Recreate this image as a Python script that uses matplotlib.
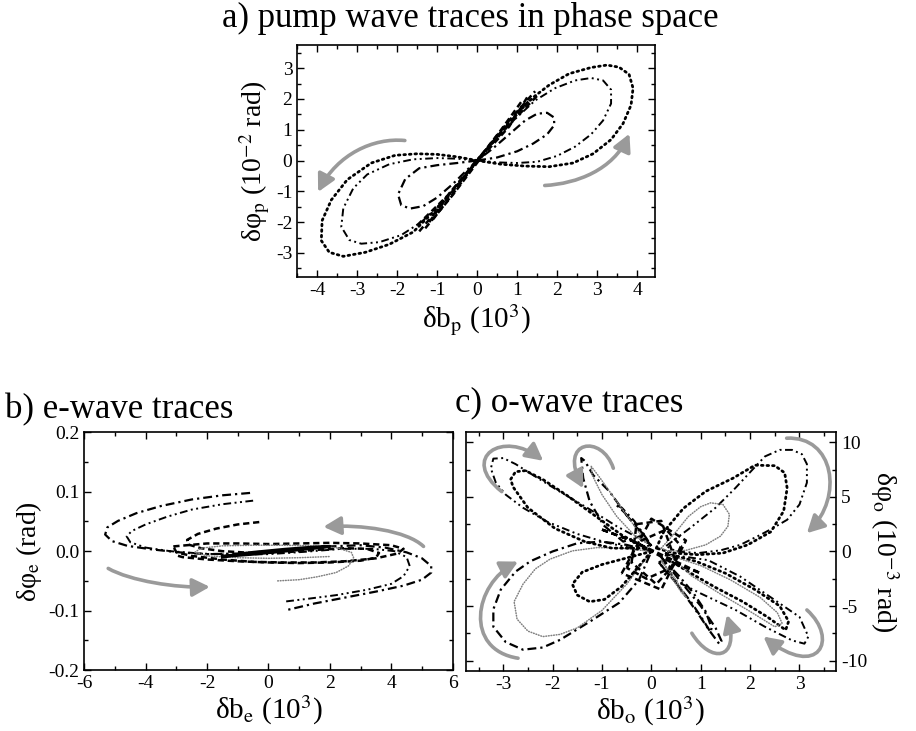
import matplotlib
matplotlib.use("Agg")
import matplotlib.pyplot as plt
from matplotlib.patches import FancyArrowPatch
from matplotlib.path import Path
from matplotlib.ticker import MultipleLocator, FormatStrFormatter

plt.rcParams['font.family'] = ['Liberation Serif', 'DejaVu Serif']
plt.rcParams['mathtext.fontset'] = 'stix'
plt.rcParams['axes.unicode_minus'] = False

# ---- a) pump wave traces ----
a_outer_r_x = [0.0, 0.6, 1.2, 1.8, 2.4, 2.9, 3.35, 3.65, 3.85, 3.9, 3.8, 3.55, 3.25, 2.85, 2.3, 1.8, 1.4, 0.9, 0.45, 0.0]
a_outer_r_y = [0.0, -0.12, -0.18, -0.2, -0.08, 0.22, 0.68, 1.2, 1.8, 2.35, 2.8, 3.03, 3.1, 3.02, 2.82, 2.45, 2.05, 1.4, 0.7, 0.0]
a_outer_l_x = [0.0, -0.5, -1.0, -1.5, -2.05, -2.65, -3.25, -3.65, -3.88, -3.9, -3.7, -3.35, -2.8, -2.2, -1.6, -1.05, -0.5, 0.0]
a_outer_l_y = [0.0, 0.12, 0.2, 0.22, 0.17, -0.08, -0.62, -1.28, -1.95, -2.6, -2.98, -3.11, -2.98, -2.72, -2.32, -1.6, -0.8, 0.0]
a_mid_r_x = [0.0, 0.5, 1.0, 1.5, 2.0, 2.45, 2.85, 3.15, 3.35, 3.35, 3.15, 2.85, 2.45, 1.95, 1.45, 0.95, 0.45, 0.0]
a_mid_r_y = [0.0, -0.06, -0.08, -0.04, 0.15, 0.45, 0.85, 1.3, 1.85, 2.3, 2.6, 2.68, 2.6, 2.35, 1.95, 1.35, 0.65, 0.0]
a_mid_l_x = [0.0, -0.5, -1.0, -1.6, -2.2, -2.75, -3.1, -3.35, -3.4, -3.2, -2.9, -2.45, -1.9, -1.4, -0.9, -0.45, 0.0]
a_mid_l_y = [0.0, 0.06, 0.08, 0.04, -0.12, -0.45, -0.9, -1.55, -2.15, -2.58, -2.7, -2.65, -2.42, -2.0, -1.4, -0.7, 0.0]
a_small_r_x = [0.0, 0.5, 1.0, 1.4, 1.75, 1.93, 1.92, 1.75, 1.5, 1.2, 0.8, 0.4, 0.0]
a_small_r_y = [0.0, 0.1, 0.3, 0.55, 0.85, 1.15, 1.4, 1.55, 1.52, 1.3, 0.85, 0.4, 0.0]
a_small_l_x = [0.0, -0.5, -1.0, -1.45, -1.8, -1.98, -1.9, -1.68, -1.35, -1.0, -0.6, -0.25, 0.0]
a_small_l_y = [0.0, -0.08, -0.15, -0.25, -0.6, -1.1, -1.45, -1.56, -1.48, -1.2, -0.75, -0.3, 0.0]
# dense diagonal bundle through the origin
a_core_x = [[-1.45, -0.8, 0.0, 0.8, 1.45],
            [-1.3, -0.6, 0.1, 0.8, 1.25],
            [-1.1, -0.5, 0.0, 0.6, 1.1],
            [-1.5, -0.75, 0.05, 0.9, 1.5],
            [-1.2, -0.65, -0.05, 0.55, 1.3]]
a_core_y = [[-2.3, -1.3, 0.0, 1.3, 2.25],
            [-2.2, -1.1, 0.1, 1.1, 2.05],
            [-1.9, -0.9, 0.0, 1.0, 1.9],
            [-2.1, -1.15, 0.1, 1.3, 2.1],
            [-2.0, -1.0, -0.1, 0.85, 1.95]]

# ---- b) e-wave traces ----
b1_x = [-0.6, -1.5, -2.5, -3.5, -4.3, -4.9, -5.25, -5.32, -5.1, -4.6, -3.8, -2.9, -2.0, -1.0, 0.0, 1.0, 2.0, 3.0,
        3.8, 4.5, 5.0, 5.3, 5.3, 5.0, 4.4, 3.5, 2.5, 1.5, 0.6]
b1_y = [0.098, 0.094, 0.087, 0.076, 0.064, 0.051, 0.040, 0.028, 0.017, 0.009, 0.003, -0.002, -0.005, -0.004, 0.0,
        0.004, 0.008, 0.010, 0.006, -0.002, -0.012, -0.025, -0.036, -0.048, -0.058, -0.068, -0.078, -0.088, -0.099]
b2_x = [-0.5, -1.5, -2.5, -3.3, -4.0, -4.45, -4.62, -4.5, -4.0, -3.2, -2.2, -1.2, 0.0, 1.2, 2.4, 3.4, 4.1, 4.5,
        4.6, 4.4, 4.0, 3.2, 2.2, 1.3, 0.5]
b2_y = [0.085, 0.079, 0.070, 0.058, 0.045, 0.034, 0.025, 0.015, 0.006, 0.0, -0.004, -0.006, -0.005, -0.001, 0.004,
        0.004, 0.0, -0.01, -0.025, -0.042, -0.055, -0.065, -0.074, -0.08, -0.085]
b3_x = [-0.3, -1.0, -1.7, -2.3, -2.65, -2.6, -2.2, -1.5, -0.5, 0.5, 1.5, 2.5, 3.2, 3.6, 3.5, 3.0, 2.0, 1.0, 0.0,
        -1.0, -2.0, -2.8, -3.0]
b3_y = [0.049, 0.045, 0.038, 0.029, 0.019, 0.011, 0.005, 0.0, -0.003, -0.002, 0.002, 0.005, 0.004, -0.003, -0.011,
        -0.016, -0.019, -0.02, -0.019, -0.017, -0.014, -0.01, -0.007]
b_band_x = [-3.1, -2.0, -1.0, 0.0, 1.0, 2.0, 3.0, 4.0, 4.4, 4.2, 3.5, 2.5, 1.5, 0.5, -0.5, -1.5, -2.5, -3.0, -3.1]
b_band_y = [0.008, 0.013, 0.013, 0.012, 0.013, 0.014, 0.013, 0.01, 0.004, -0.004, -0.012, -0.017, -0.019, -0.019,
            -0.018, -0.014, -0.008, -0.002, 0.008]
b_gray_x = [0.3, 1.0, 1.6, 2.2, 2.6, 2.78, 2.7, 2.2, 1.4, 0.5, -0.5, -1.5, -2.2, -2.4, -2.0, -1.0, 0.0, 1.0, 2.0]
b_gray_y = [-0.05, -0.048, -0.043, -0.036, -0.025, -0.012, -0.002, 0.006, 0.009, 0.01, 0.01, 0.009, 0.005, -0.002,
            -0.008, -0.011, -0.012, -0.011, -0.009]
b_core_x = [-1.5, -0.5, 0.5, 1.5, 2.0, 1.5, 0.5, -0.5, -1.5]
b_core_y = [-0.009, -0.005, 0.0, 0.005, 0.008, 0.007, 0.003, -0.002, -0.009]

# ---- c) o-wave traces ----
c_ur_in_x = [0.1, 0.25, 0.65, 1.1, 1.65, 2.1, 2.5, 2.7, 2.75, 2.68, 2.42, 1.95, 1.45, 0.95, 0.45, 0.1]
c_ur_in_y = [0.3, 1.8, 3.95, 5.5, 6.7, 7.9, 7.85, 7.2, 5.8, 3.7, 1.8, 0.6, -0.15, -0.3, -0.15, 0.3]
c_ur_out_x = [0.3, 0.8, 1.3, 1.7, 2.05, 2.3, 2.6, 2.85, 3.05, 3.15, 3.15, 3.0, 2.75, 2.45, 2.2, 1.8, 1.4, 0.95, 0.5, 0.3]
c_ur_out_y = [0.5, 2.2, 4.0, 5.8, 7.5, 8.7, 9.3, 9.3, 8.9, 8.0, 6.3, 4.3, 2.9, 2.1, 1.5, 0.6, 0.1, -0.15, 0.0, 0.5]
c_ur_gray_x = [0.2, 0.5, 0.75, 1.0, 1.2, 1.45, 1.58, 1.55, 1.4, 1.1, 0.7, 0.35, 0.2]
c_ur_gray_y = [0.3, 1.8, 3.2, 4.1, 4.45, 4.3, 3.4, 2.3, 1.4, 0.6, 0.1, 0.0, 0.3]
c_lr_out_x = [0.3, 0.7, 1.15, 1.8, 2.45, 3.0, 3.18, 3.1, 2.85, 2.3, 1.7, 1.0, 0.45, 0.2, 0.3]
c_lr_out_y = [-0.3, -0.5, -0.8, -2.3, -4.3, -6.0, -7.8, -8.45, -8.15, -6.9, -5.35, -3.85, -2.6, -1.3, -0.3]
c_lr_in_x = [0.3, 0.9, 1.5, 2.1, 2.6, 2.78, 2.72, 2.35, 1.85, 1.3, 0.8, 0.4, 0.3]
c_lr_in_y = [-0.2, -0.9, -2.0, -3.5, -5.0, -6.4, -7.2, -6.0, -4.6, -3.3, -2.0, -0.9, -0.2]
c_lr_gray_x = [0.4, 1.0, 1.6, 2.2, 2.55, 2.65, 2.5, 2.0, 1.4, 0.8, 0.4]
c_lr_gray_y = [-0.4, -1.3, -2.6, -4.2, -5.6, -6.6, -6.9, -5.5, -3.9, -2.2, -0.4]
c_ll_out_x = [0.0, -0.5, -1.0, -1.5, -2.0, -2.45, -2.75, -3.05, -3.2, -3.2, -2.95, -2.6, -2.2, -1.85, -1.2, -0.65,
              -0.25, 0.0]
c_ll_out_y = [0.0, 0.6, 0.9, 0.75, 0.0, -0.9, -1.85, -3.5, -5.3, -6.9, -8.3, -9.0, -8.8, -8.1, -6.3, -4.7, -2.6, 0.0]
c_ll_in_x = [0.0, -0.6, -1.1, -1.6, -2.05, -2.35, -2.6, -2.78, -2.72, -2.5, -2.2, -1.85, -1.5, -1.0, -0.5, 0.0]
c_ll_in_y = [0.0, 0.3, 0.35, 0.05, -0.7, -1.6, -3.0, -4.6, -6.2, -7.3, -7.8, -7.6, -7.0, -5.4, -3.0, 0.0]
c_ll_small_x = [0.0, -0.5, -1.0, -1.4, -1.6, -1.5, -1.25, -0.95, -0.6, -0.3, 0.0]
c_ll_small_y = [0.0, -0.6, -1.2, -1.9, -3.0, -4.0, -4.6, -4.4, -3.2, -1.6, 0.0]
c_ul_in_x = [-0.1, -0.6, -1.15, -1.7, -2.2, -2.55, -2.75, -2.85, -2.8, -2.5, -1.95, -1.35, -0.8, -0.1]
c_ul_in_y = [0.3, 1.5, 3.3, 5.1, 6.6, 7.4, 7.3, 6.6, 5.9, 4.0, 2.1, 0.9, 0.3, 0.3]
c_ul_out_x = [0.0, -0.7, -1.3, -1.9, -2.4, -2.75, -3.0, -3.2, -3.25, -3.15, -2.95, -2.6, -2.1, -1.5, -0.9, -0.3, 0.0]
c_ul_out_y = [0.6, 2.3, 4.0, 5.6, 7.0, 8.0, 8.55, 8.5, 7.6, 6.3, 5.2, 4.0, 2.7, 1.6, 0.8, 0.2, 0.6]
# narrow lobes near the vertical axis
c_narrow_x = [[-0.15, -0.5, -0.85, -1.18, -1.35, -1.42, -1.38, -1.25, -0.97, -0.57, -0.15],
              [0.15, 0.45, 0.8, 1.05, 1.2, 1.22, 1.1, 0.85, 0.55, 0.25, 0.15],
              [0.2, 0.6, 1.0, 1.3, 1.42, 1.38, 1.2, 0.9, 0.55, 0.2],
              [0.0, -0.3, -0.55, -0.72, -0.6, -0.35, -0.1, 0.0]]
c_narrow_y = [[1.5, 3.3, 5.5, 7.0, 8.3, 8.55, 6.7, 4.6, 2.4, 0.9, 1.5],
              [-1.0, -2.6, -4.6, -6.3, -7.4, -7.0, -5.5, -3.8, -2.2, -0.8, -1.0],
              [-0.5, -2.8, -5.0, -7.0, -8.2, -8.5, -7.4, -5.4, -3.2, -0.5],
              [0.5, 2.2, 3.6, 4.3, 4.0, 2.8, 1.2, 0.5]]
c_narrow_gray_x = [[-0.1, -0.45, -0.8, -1.05, -1.22, -1.2, -1.0, -0.7, -0.35, -0.1],
                   [0.2, 0.45, 0.62, 0.7, 0.6, 0.4, 0.2]]
c_narrow_gray_y = [[0.8, 3.0, 5.2, 6.8, 7.8, 7.0, 5.2, 3.2, 1.5, 0.8],
                   [-0.8, -2.3, -3.5, -4.2, -3.7, -2.3, -0.8]]
# small loops crowding the origin
c_core_x = [[-0.5, -0.2, 0.3, 0.6, 0.4, -0.1, -0.5],
            [-0.3, 0.2, 0.5, 0.1, -0.4, -0.3],
            [-1.0, -0.4, 0.3, 1.0, 0.4, -0.3, -1.0],
            [-0.6, 0.0, 0.7, 0.2, -0.6]]
c_core_y = [[-1.5, 1.0, 2.0, 0.5, -1.5, -2.5, -1.5],
            [2.5, 2.8, -1.0, -3.0, -1.0, 2.5],
            [2.0, 1.0, -0.5, -2.0, -1.0, 0.8, 2.0],
            [-2.0, 3.0, 1.0, -3.5, -2.0]]

GREY = '#9a9a9a'
styles = {
    'dots': dict(color='k', lw=2.0, ls=(0, (0.6, 1.4)), dash_capstyle='round'),
    'dashdot': dict(color='k', lw=1.6, ls=(0, (4, 1.8, 1, 1.8))),
    'dashdotdot': dict(color='k', lw=1.4, ls=(0, (4, 1.8, 1, 1.8, 1, 1.8))),
    'dash': dict(color='k', lw=1.8, ls=(0, (2.5, 1.5))),
    'gray': dict(color='#808080', lw=1.1, ls=(0, (0.5, 1.2)), dash_capstyle='round'),
}


def curved_arrow(ax, p0, c1, c2, p1):
    path = Path([p0, c1, c2, p1], [Path.MOVETO, Path.CURVE4, Path.CURVE4, Path.CURVE4])
    arr = FancyArrowPatch(path=path, arrowstyle='-|>,head_length=0.8,head_width=0.42',
                          mutation_scale=13, color=GREY, lw=2.6, zorder=5)
    ax.add_patch(arr)


def style_axes(ax):
    ax.tick_params(which='both', direction='in', top=True, right=True, labelsize=14)
    ax.tick_params(which='major', length=5, width=1)
    ax.tick_params(which='minor', length=3, width=1)
    for s in ax.spines.values():
        s.set_linewidth(1.2)


fig = plt.figure(figsize=(9.16, 7.31), dpi=100)

# panel a
ax = fig.add_axes([0.3246, 0.6211, 0.3905, 0.3173])
ax.plot(a_outer_r_x, a_outer_r_y, **styles['dots'])
ax.plot(a_outer_l_x, a_outer_l_y, **styles['dots'])
ax.plot(a_mid_r_x, a_mid_r_y, **styles['dashdotdot'])
ax.plot(a_mid_l_x, a_mid_l_y, **styles['dashdotdot'])
ax.plot(a_small_r_x, a_small_r_y, **styles['dashdot'])
ax.plot(a_small_l_x, a_small_l_y, **styles['dashdot'])
for xs, ys in zip(a_core_x, a_core_y):
    ax.plot(xs, ys, **styles['dash'])
curved_arrow(ax, (-1.81, 0.65), (-2.6, 0.75), (-3.5, 0.2), (-3.98, -1.02))
curved_arrow(ax, (1.69, -0.81), (2.5, -0.75), (3.4, -0.3), (3.81, 0.87))
ax.set_xlim(-4.5, 4.45)
ax.set_ylim(-3.78, 3.75)
ax.xaxis.set_major_locator(MultipleLocator(1))
ax.xaxis.set_minor_locator(MultipleLocator(0.5))
ax.yaxis.set_major_locator(MultipleLocator(1))
ax.yaxis.set_minor_locator(MultipleLocator(0.5))
style_axes(ax)
ax.set_xlabel('δb$_\\mathrm{p}$ (10$^3$)', fontsize=21, labelpad=3)
ax.set_ylabel('δφ$_\\mathrm{p}$ (10$^{-2}$ rad)', fontsize=20, labelpad=3)

# panel b
ax = fig.add_axes([0.0920, 0.0834, 0.4022, 0.3252])
ax.plot(b1_x, b1_y, **styles['dashdot'])
ax.plot(b2_x, b2_y, **styles['dashdotdot'])
ax.plot(b3_x, b3_y, **styles['dash'])
ax.plot(b_band_x, b_band_y, **styles['dash'])
ax.plot(b_gray_x, b_gray_y, **styles['gray'])
ax.plot(b_core_x, b_core_y, color='k', lw=2.2)
curved_arrow(ax, (-5.22, -0.029), (-4.5, -0.05), (-3.0, -0.062), (-1.91, -0.06))
curved_arrow(ax, (5.05, 0.008), (4.5, 0.035), (3.0, 0.045), (1.79, 0.041))
ax.set_xlim(-6, 6)
ax.set_ylim(-0.2, 0.2)
ax.xaxis.set_major_locator(MultipleLocator(2))
ax.xaxis.set_minor_locator(MultipleLocator(1))
ax.yaxis.set_major_locator(MultipleLocator(0.1))
ax.yaxis.set_minor_locator(MultipleLocator(0.05))
ax.yaxis.set_major_formatter(FormatStrFormatter('%.1f'))
style_axes(ax)
ax.set_xlabel('δb$_\\mathrm{e}$ (10$^3$)', fontsize=21, labelpad=1)
ax.set_ylabel('δφ$_\\mathrm{e}$ (rad)', fontsize=20, labelpad=3)

# panel c
ax = fig.add_axes([0.5084, 0.0821, 0.4043, 0.3274])
ax.plot(c_ur_in_x, c_ur_in_y, **styles['dots'])
ax.plot(c_ur_out_x, c_ur_out_y, **styles['dashdotdot'])
ax.plot(c_ur_gray_x, c_ur_gray_y, **styles['gray'])
ax.plot(c_lr_out_x, c_lr_out_y, **styles['dashdotdot'])
ax.plot(c_lr_in_x, c_lr_in_y, **styles['dots'])
ax.plot(c_lr_gray_x, c_lr_gray_y, **styles['gray'])
ax.plot(c_ll_out_x, c_ll_out_y, **styles['dashdot'])
ax.plot(c_ll_in_x, c_ll_in_y, **styles['gray'])
ax.plot(c_ll_small_x, c_ll_small_y, **styles['dots'])
ax.plot(c_ul_in_x, c_ul_in_y, **styles['dots'])
ax.plot(c_ul_out_x, c_ul_out_y, **styles['dashdotdot'])
for xs, ys in zip(c_narrow_x, c_narrow_y):
    ax.plot(xs, ys, **styles['dashdot'])
for xs, ys in zip(c_narrow_gray_x, c_narrow_gray_y):
    ax.plot(xs, ys, **styles['gray'])
for xs, ys in zip(c_core_x, c_core_y):
    ax.plot(xs, ys, **styles['dash'])
curved_arrow(ax, (-3.03, 5.48), (-3.9, 8.6), (-3.0, 11.2), (-2.19, 8.3))
curved_arrow(ax, (-0.77, 7.62), (-1.0, 10.8), (-1.9, 10.2), (-1.38, 5.79))
curved_arrow(ax, (2.74, 10.37), (3.7, 10.6), (3.9, 5.0), (3.15, 1.67))
curved_arrow(ax, (-2.70, -9.78), (-3.8, -9.0), (-3.6, -3.0), (-2.70, -0.93))
curved_arrow(ax, (0.82, -7.49), (1.2, -10.3), (1.8, -10.0), (1.53, -5.81))
curved_arrow(ax, (3.15, -5.36), (3.8, -8.0), (3.4, -11.8), (2.27, -7.8))
ax.set_xlim(-3.76, 3.74)
ax.set_ylim(-10.95, 10.97)
ax.xaxis.set_major_locator(MultipleLocator(1))
ax.xaxis.set_minor_locator(MultipleLocator(0.5))
ax.yaxis.set_major_locator(MultipleLocator(5))
ax.yaxis.set_minor_locator(MultipleLocator(2.5))
style_axes(ax)
ax.tick_params(labelleft=False, labelright=True)
ax.yaxis.set_label_position('right')
ax.set_xlabel('δb$_\\mathrm{o}$ (10$^3$)', fontsize=21, labelpad=1)
ax.set_ylabel('δφ$_\\mathrm{o}$ (10$^{-3}$ rad)', fontsize=20, rotation=270, labelpad=24)

fig.text(0.513, 0.975, 'a) pump wave traces in phase space', fontsize=25, ha='center', va='center')
fig.text(0.005, 0.44, 'b) e-wave traces', fontsize=25, ha='left', va='center')
fig.text(0.497, 0.449, 'c) o-wave traces', fontsize=25, ha='left', va='center')

fig.savefig('out.png', dpi=100)
